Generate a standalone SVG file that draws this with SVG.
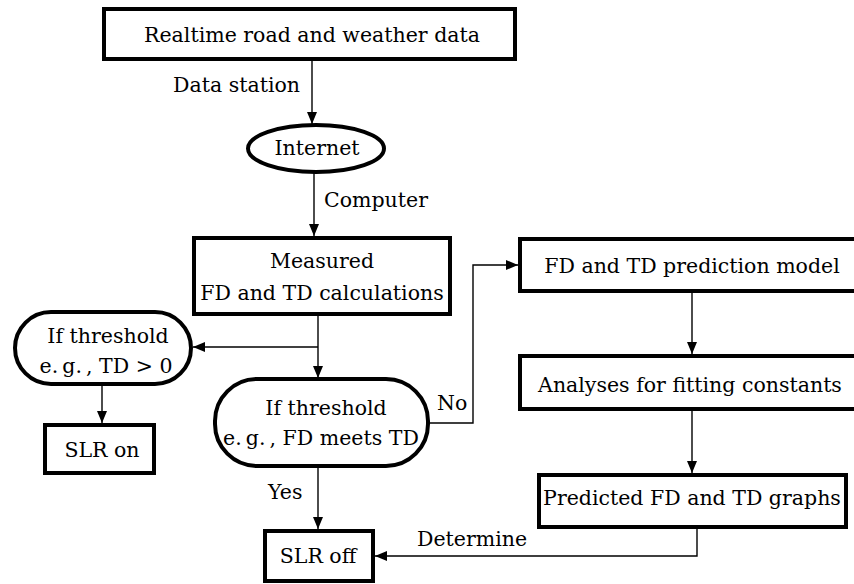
<svg xmlns="http://www.w3.org/2000/svg" width="854" height="584" viewBox="0 0 854 584">
  <style>
    .box { fill: #ffffff; stroke: #000000; stroke-width: 4; }
    .lbl { font-family: "DejaVu Serif", "Liberation Serif", serif; font-size: 20.5px; fill: #000000; }
    .mid { text-anchor: middle; }
    .end { text-anchor: end; }
    .wire { fill: none; stroke: #000000; stroke-width: 1.4; }
  </style>
  <defs>
    <marker id="arrow" markerUnits="userSpaceOnUse" markerWidth="12" markerHeight="12" viewBox="0 0 12 12" refX="12" refY="6" orient="auto">
      <path d="M0,1 L12,6 L0,11 Z" fill="#000000"/>
    </marker>
  </defs>

  <rect width="854" height="584" fill="#ffffff"/>

  <!-- connectors -->
  <g id="connectors">
    <line class="wire" x1="312" y1="61" x2="312" y2="124" marker-end="url(#arrow)"/>
    <line class="wire" x1="314" y1="172" x2="314" y2="236" marker-end="url(#arrow)"/>
    <line class="wire" x1="318" y1="316" x2="318" y2="378" marker-end="url(#arrow)"/>
    <line class="wire" x1="318" y1="347" x2="193" y2="347" marker-end="url(#arrow)"/>
    <line class="wire" x1="102" y1="386" x2="102" y2="423" marker-end="url(#arrow)"/>
    <polyline class="wire" points="430,423 473,423 473,265 518,265" marker-end="url(#arrow)"/>
    <line class="wire" x1="692" y1="293" x2="692" y2="354" marker-end="url(#arrow)"/>
    <line class="wire" x1="692" y1="411" x2="692" y2="473" marker-end="url(#arrow)"/>
    <line class="wire" x1="318" y1="468" x2="318" y2="529" marker-end="url(#arrow)"/>
    <polyline class="wire" points="697,529 697,556 375,556" marker-end="url(#arrow)"/>
    <text class="lbl end" x="300" y="92">Data station</text>
    <text class="lbl" x="324" y="207">Computer</text>
    <text class="lbl" x="437" y="410">No</text>
    <text class="lbl" x="268" y="499">Yes</text>
    <text class="lbl" x="417" y="546">Determine</text>
  </g>

  <g id="realtime-data">
    <rect class="box" x="104" y="9" width="411" height="50"/>
    <text class="lbl mid" x="312" y="42">Realtime road and weather data</text>
  </g>

  <g id="internet">
    <ellipse class="box" cx="316" cy="148.5" rx="68" ry="23.5"/>
    <text class="lbl mid" x="317" y="155">Internet</text>
  </g>

  <g id="measured">
    <rect class="box" x="194" y="238" width="256" height="76"/>
    <text class="lbl mid" x="322" y="268">Measured</text>
    <text class="lbl mid" x="322" y="300">FD and TD calculations</text>
  </g>

  <g id="threshold-td">
    <rect class="box" x="15" y="312" width="176" height="72" rx="36" ry="36"/>
    <text class="lbl mid" x="108" y="343">If threshold</text>
    <text class="lbl mid" x="106" y="373">e.&#8201;g.&#8201;, TD &gt; 0</text>
  </g>

  <g id="slr-on">
    <rect class="box" x="45" y="425" width="109" height="48"/>
    <text class="lbl mid" x="102" y="457">SLR on</text>
  </g>

  <g id="threshold-fd">
    <rect class="box" x="215" y="379" width="213" height="87" rx="42" ry="42"/>
    <text class="lbl mid" x="326" y="415">If threshold</text>
    <text class="lbl mid" x="321" y="445">e.&#8201;g.&#8201;, FD meets TD</text>
  </g>

  <g id="prediction-model">
    <rect class="box" x="520" y="239" width="360" height="52"/>
    <text class="lbl mid" x="692" y="273">FD and TD prediction model</text>
  </g>

  <g id="fitting-constants">
    <rect class="box" x="520" y="356" width="360" height="53"/>
    <text class="lbl mid" x="690" y="392">Analyses for fitting constants</text>
  </g>

  <g id="predicted-graphs">
    <rect class="box" x="539" y="475" width="307" height="52"/>
    <text class="lbl mid" x="692" y="505">Predicted FD and TD graphs</text>
  </g>

  <g id="slr-off">
    <rect class="box" x="265" y="531" width="108" height="50"/>
    <text class="lbl mid" x="318" y="563">SLR off</text>
  </g>
</svg>
